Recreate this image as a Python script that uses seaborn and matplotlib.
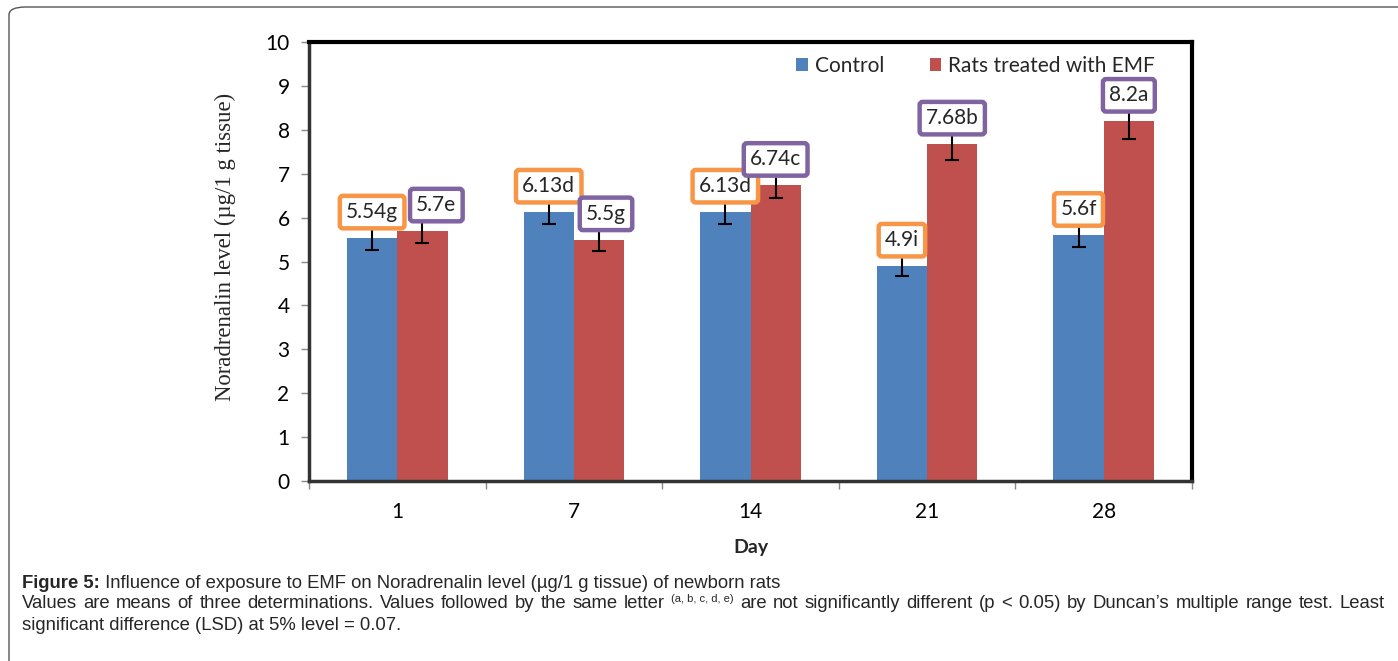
import matplotlib
matplotlib.use("Agg")
import matplotlib.pyplot as plt
import seaborn as sns
import pandas as pd
import numpy as np
from matplotlib.patches import FancyBboxPatch

# ---- data ----
days = ["1", "7", "14", "21", "28"]
control = [5.54, 6.13, 6.13, 4.90, 5.60]
emf = [5.70, 5.50, 6.74, 7.68, 8.20]
control_err = [0.28, 0.28, 0.28, 0.23, 0.27]
emf_err = [0.28, 0.25, 0.30, 0.37, 0.40]
control_lbl = ["5.54g", "6.13d", "6.13d", "4.9i", "5.6f"]
emf_lbl = ["5.7e", "5.5g", "6.74c", "7.68b", "8.2a"]
groups = ["Control", "Rats treated with EMF"]

# ---- layout tweaks (label nudges in points, to avoid overlapping boxes) ----
control_dx = [0, 0, 0, 0, 0]
emf_dx = [10, 5, 0, 0, 0]

df = pd.DataFrame({
    "Day": days * 2,
    "value": control + emf,
    "Group": [groups[0]] * 5 + [groups[1]] * 5,
})

sns.set_theme(style="white")
plt.rcParams["font.family"] = ["Lato", "DejaVu Sans"]

fig = plt.figure(figsize=(13.98, 6.61), dpi=100)
ax = fig.add_axes([309 / 1398, 1 - 481 / 661, (1192 - 309) / 1398, (481 - 42) / 661])

pal = {groups[0]: "#4F81BD", groups[1]: "#C0504D"}
sns.barplot(data=df, x="Day", y="value", hue="Group", order=days, hue_order=groups,
            palette=pal, width=0.57, gap=0, errorbar=None, saturation=1, ax=ax,
            edgecolor="none", linewidth=0, zorder=2)

ax.set_ylim(0, 10)
ax.set_xlim(-0.5, 4.5)
ax.set_yticks(range(0, 11))
ax.tick_params(axis="y", which="major", direction="out", length=6, width=1,
               color="#888888", labelsize=15, pad=8, left=True)
ax.tick_params(axis="x", which="major", length=0, labelsize=15, pad=15)
ax.set_xticks(np.arange(-0.5, 5.0, 1.0), minor=True)
ax.tick_params(axis="x", which="minor", direction="out", length=6, width=1,
               color="#888888", bottom=True)
for lab in ax.get_yticklabels() + ax.get_xticklabels():
    lab.set_color("#000000")

ax.set_xlabel("Day", fontsize=14, fontweight="bold", labelpad=12)
ax.set_ylabel("Noradrenalin level (µg/1 g tissue)", fontsize=16.4,
              family=["Liberation Serif", "DejaVu Serif"])
ax.yaxis.set_label_coords((225 - 309) / 883, (481 - 247) / 439)
ax.yaxis.label.set_verticalalignment("center")

for side in ["left", "bottom"]:
    ax.spines[side].set_color("#333333")
    ax.spines[side].set_linewidth(2.5)
for side in ["top", "right"]:
    ax.spines[side].set_color("#000000")
    ax.spines[side].set_linewidth(3)

# error bars and label boxes
series = [(control, control_err, control_lbl, control_dx, "#F79646"),
          (emf, emf_err, emf_lbl, emf_dx, "#8064A2")]
for cont, (vals, errs, lbls, dxs, ec) in zip(ax.containers, series):
    for bar, v, e, t, dx in zip(cont, vals, errs, lbls, dxs):
        xc = bar.get_x() + bar.get_width() / 2
        ax.errorbar(xc, v, yerr=e, fmt="none", ecolor="black", elinewidth=1.5,
                    capsize=5, capthick=1.5, zorder=3)
        ax.annotate(t, xy=(xc, v), xytext=(dx, 18.5), textcoords="offset points",
                    ha="center", va="center", fontsize=15, zorder=5,
                    bbox=dict(boxstyle="round,pad=0.3,rounding_size=0.15", fc="white",
                              ec=ec, lw=3.2))

ax.legend(ncol=2, loc="upper right", bbox_to_anchor=(0.958, 0.968), frameon=False,
          fontsize=15, handlelength=0.55, handleheight=0.55, handletextpad=0.33,
          columnspacing=2.2, borderaxespad=0, borderpad=0)

# outer rounded frame
frame = FancyBboxPatch((9 / 1398, -0.05), 1.1, 1 - 7 / 661 + 0.05,
                       boxstyle="round,pad=0,rounding_size=0.012",
                       transform=fig.transFigure, fc="none", ec="#555555", lw=1,
                       clip_on=False)
fig.patches.append(frame)

# ---- caption ----
cap_font = ["Liberation Sans", "DejaVu Sans"]
cs = 13.3
x0, x1 = 22, 1385
W, H = 1398, 661
renderer = fig.canvas.get_renderer()


def px_width(t):
    return t.get_window_extent(renderer=renderer).width


# line 1
t1 = fig.text(x0 / W, 1 - 583 / H, "Figure 5:", fontsize=cs, fontweight="bold",
              family=cap_font, va="center")
t1b = fig.text((x0 + px_width(t1)) / W, 1 - 583 / H,
               " Influence of exposure to EMF on Noradrenalin level (µg/1 g tissue) of newborn rats",
               fontsize=cs, family=cap_font, va="center")

# line 2 (justified)
line2_tokens = ["Values", "are", "means", "of", "three", "determinations.", "Values", "followed",
                "by", "the", "same", "letter", "(a, b, c, d, e)", "are", "not", "significantly",
                "different", "(p", "<", "0.05)", "by", "Duncan’s", "multiple", "range", "test.",
                "Least"]
y2 = 1 - 604 / H
objs = []
for tok in line2_tokens:
    if tok.startswith("(a"):
        o = fig.text(0, y2 + 5 / H, tok, fontsize=8, family=cap_font, va="center")
    else:
        o = fig.text(0, y2, tok, fontsize=cs, family=cap_font, va="center")
    objs.append(o)
widths = [px_width(o) for o in objs]
gap = (x1 - x0 - sum(widths)) / (len(objs) - 1)
xpos = x0
for o, w in zip(objs, widths):
    o.set_x(xpos / W)
    xpos += w + gap

# line 3
fig.text(x0 / W, 1 - 625 / H, "significant difference (LSD) at 5% level = 0.07.",
         fontsize=cs, family=cap_font, va="center")

fig.savefig("out.png", dpi=100)
